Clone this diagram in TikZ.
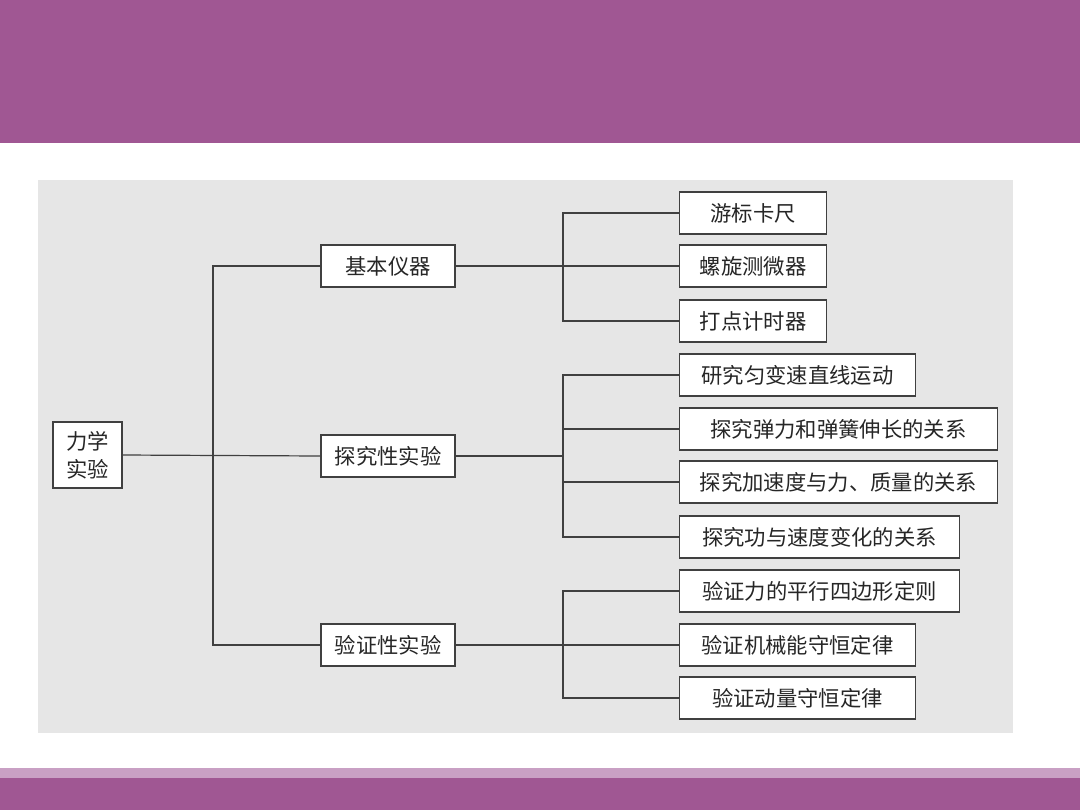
\documentclass[tikz,border=0pt]{standalone}
\usepackage{fontspec}
\newfontfamily\cjk{Noto Sans CJK SC}
\begin{document}
\begin{tikzpicture}[x=0.75pt,y=-0.75pt,
 box/.style={draw=black!75,line width=0.9pt,fill=white,font=\cjk\fontsize{16}{19}\selectfont,minimum height=31.5pt,inner sep=0pt,text=black!85},
 ln/.style={draw=black!75,line width=0.9pt}]
\useasboundingbox (0,0) rectangle (1080,810);
\fill[white] (0,0) rectangle (1080,810);
\fill[fill={rgb,255:red,160;green,87;blue,147}] (0,0) rectangle (1080,143);
\fill[fill={rgb,255:red,201;green,160;blue,196}] (0,768) rectangle (1080,778);
\fill[fill={rgb,255:red,160;green,87;blue,147}] (0,778) rectangle (1080,810);
\fill[fill={rgb,255:red,230;green,230;blue,230}] (38,180) rectangle (1013,733);
% nodes
\node[box,minimum width=51.75pt,minimum height=49.5pt,align=center,font=\cjk\fontsize{16}{21}\selectfont] (root) at (87.5,455) {力学\\实验};
\node[box,minimum width=100.5pt] (a) at (388,266) {基本仪器};
\node[box,minimum width=100.5pt] (b) at (388,456) {探究性实验};
\node[box,minimum width=100.5pt] (c) at (388,645) {验证性实验};
\node[box,anchor=west,minimum width=110.25pt] (a1) at (679,213) {游标卡尺};
\node[box,anchor=west,minimum width=110.25pt] (a2) at (679,266) {螺旋测微器};
\node[box,anchor=west,minimum width=110.25pt] (a3) at (679,321) {打点计时器};
\node[box,anchor=west,minimum width=177pt] (b1) at (679,375) {研究匀变速直线运动};
\node[box,anchor=west,minimum width=238.5pt] (b2) at (679,429) {探究弹力和弹簧伸长的关系};
\node[box,anchor=west,minimum width=238.5pt] (b3) at (679,482) {探究加速度与力、质量的关系};
\node[box,anchor=west,minimum width=210pt] (b4) at (679,537) {探究功与速度变化的关系};
\node[box,anchor=west,minimum width=210pt] (c1) at (679,591) {验证力的平行四边形定则};
\node[box,anchor=west,minimum width=177pt] (c2) at (679,645) {验证机械能守恒定律};
\node[box,anchor=west,minimum width=177pt] (c3) at (679,698) {验证动量守恒定律};
% connectors
\coordinate (t) at (213,456);
\draw[ln] (root.east) -- (b.west);
\draw[ln] (a.west) -| (t) |- (c.west);
\draw[ln] (a.east) -- (a2.west);
\draw[ln] (a1.west) -| (563,266) |- (a3.west);
\draw[ln] (b.east) -- (563,456);
\draw[ln] (b1.west) -| (563,456) |- (b4.west);
\draw[ln] (b2.west) -- (563,429);
\draw[ln] (b3.west) -- (563,482);
\draw[ln] (c.east) -- (c2.west);
\draw[ln] (c1.west) -| (563,645) |- (c3.west);
\end{tikzpicture}
\end{document}
